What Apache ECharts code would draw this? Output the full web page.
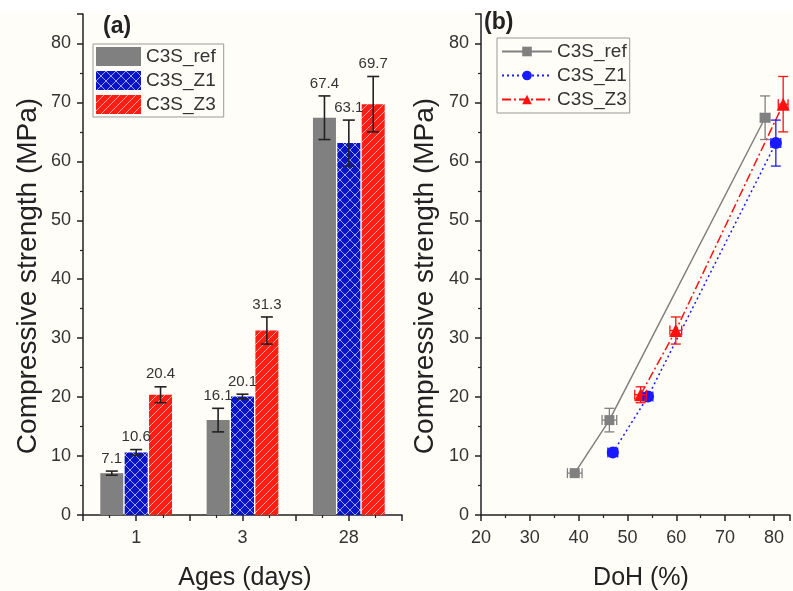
<!DOCTYPE html>
<html>
<head>
<meta charset="utf-8">
<script src="https://cdn.jsdelivr.net/npm/echarts@6/dist/echarts.min.js"></script>
<style>
html,body{margin:0;padding:0;background:#fefdf7;}
#c{width:793px;height:591px;}
</style>
</head>
<body>
<div id="c"></div>
<script>
// ---- data ----
const ageLabels = ['1', '3', '28'];
const agePos = [1, 2, 3];
const seriesNames = ['C3S_ref', 'C3S_Z1', 'C3S_Z3'];
const refStrength = [7.1, 16.1, 67.4];
const z1Strength = [10.6, 20.1, 63.1];
const z3Strength = [20.4, 31.3, 69.7];
const refErr = [0.35, 2.0, 3.7];
const z1Err = [0.5, 0.4, 3.9];
const z3Err = [1.35, 2.3, 4.7];
const refDoH = [39.2, 46.3, 78.2];
const z1DoH = [47.0, 54.2, 80.4];
const z3DoH = [52.7, 59.9, 81.9];
const refDoHErr = [1.5, 1.5, 1.0];
const z1DoHErr = [1.0, 1.0, 1.0];
const z3DoHErr = [1.2, 1.2, 1.0];
const yTitle = 'Compressive strength (MPa)';
const xTitleA = 'Ages (days)';
const xTitleB = 'DoH (%)';

const strengths = [refStrength, z1Strength, z3Strength];
const errs = [refErr, z1Err, z3Err];
const dohs = [refDoH, z1DoH, z3DoH];
const dohErrs = [refDoHErr, z1DoHErr, z3DoHErr];

// ---- styles ----
const GRAY = '#808080', BLUE = '#0a14c8', RED = '#ff1e14';
const LBLUE = '#1a1aff', LRED = '#ff1010';
const BAR_W = 23, BAR_GAP = 0.06;
const FONT = '"Liberation Sans", Arial, sans-serif';

function makePattern(bg, kind) {
  const s = kind === 'cross' ? 10 : 8;
  const c = document.createElement('canvas');
  c.width = s; c.height = s;
  const g = c.getContext('2d');
  g.fillStyle = bg; g.fillRect(0, 0, s, s);
  g.strokeStyle = 'rgba(255,255,255,0.6)';
  g.lineWidth = 1;
  g.beginPath();
  if (kind === 'cross') {
    g.moveTo(0, 0); g.lineTo(s, s);
    g.moveTo(0, s); g.lineTo(s, 0);
  } else {
    g.moveTo(-1, s + 1); g.lineTo(s + 1, -1);
    g.moveTo(-1, 1); g.lineTo(1, -1);
    g.moveTo(s - 1, s + 1); g.lineTo(s + 1, s - 1);
  }
  g.stroke();
  return { image: c, repeat: 'repeat' };
}
const barColors = [GRAY, makePattern(BLUE, 'cross'), makePattern(RED, 'diag')];
const lineColors = [GRAY, LBLUE, LRED];
const lineTypes = ['solid', [2, 3], [9, 3, 2, 3]];
const symbols = ['rect', 'circle', 'triangle'];
const symbolSizes = [10, 12, 13];

const axisCommon = {
  axisLine: { show: true, onZero: false, lineStyle: { color: '#222', width: 1.5 } },
  axisTick: { show: true, length: 6, lineStyle: { color: '#222', width: 1.5 } },
  minorTick: { show: true, splitNumber: 2, length: 3, lineStyle: { color: '#222', width: 1.2 } },
  splitLine: { show: false },
  axisLabel: { color: '#333', fontSize: 18, fontFamily: FONT }
};

const series = [];
// Panel (a) bars
for (let k = 0; k < 3; k++) {
  series.push({
    type: 'bar', name: seriesNames[k], xAxisIndex: 0, yAxisIndex: 0,
    barWidth: BAR_W, barGap: (BAR_GAP * 100) + '%',
    itemStyle: { color: barColors[k] },
    data: agePos.map((p, i) => [p, strengths[k][i]]),
    z: 2
  });
}
// Panel (a) error bars + labels
const errData = [];
for (let k = 0; k < 3; k++) for (let i = 0; i < 3; i++) errData.push([agePos[i], strengths[k][i], errs[k][i], k]);
series.push({
  type: 'custom', name: 'errA', xAxisIndex: 0, yAxisIndex: 0, z: 5,
  encode: { x: 0, y: 1 },
  data: errData,
  renderItem: function (params, api) {
    const x = api.value(0), v = api.value(1), e = api.value(2), k = api.value(3);
    const off = (k - 1) * BAR_W * (1 + BAR_GAP);
    const top = api.coord([x, v + e]), bot = api.coord([x, v - e]);
    const cx = top[0] + off, cw = 6;
    const st = { stroke: '#222', lineWidth: 1.6 };
    return { type: 'group', children: [
      { type: 'line', shape: { x1: cx, y1: top[1], x2: cx, y2: bot[1] }, style: st },
      { type: 'line', shape: { x1: cx - cw, y1: top[1], x2: cx + cw, y2: top[1] }, style: st },
      { type: 'line', shape: { x1: cx - cw, y1: bot[1], x2: cx + cw, y2: bot[1] }, style: st },
      { type: 'text', x: cx, y: top[1] - 5, style: { text: v.toFixed(1), fill: '#333', font: '15px ' + FONT, textAlign: 'center', textVerticalAlign: 'bottom' } }
    ]};
  }
});
// Panel (b) lines
for (let k = 0; k < 3; k++) {
  series.push({
    type: 'line', name: 'b:' + seriesNames[k], xAxisIndex: 1, yAxisIndex: 1,
    data: dohs[k].map((d, i) => [d, strengths[k][i]]),
    symbol: symbols[k], symbolSize: symbolSizes[k],
    itemStyle: { color: lineColors[k] },
    lineStyle: { color: lineColors[k], width: 1.5, type: lineTypes[k] },
    z: 3
  });
  const ed = dohs[k].map((d, i) => [d, strengths[k][i], dohErrs[k][i], errs[k][i]]);
  series.push({
    type: 'custom', name: 'errB' + k, xAxisIndex: 1, yAxisIndex: 1, z: 4,
    encode: { x: 0, y: 1 },
    data: ed,
    renderItem: (function (col) {
      return function (params, api) {
        const x = api.value(0), y = api.value(1), ex = api.value(2), ey = api.value(3);
        const t = api.coord([x, y + ey]), b = api.coord([x, y - ey]);
        const l = api.coord([x - ex, y]), r = api.coord([x + ex, y]);
        const st = { stroke: col, lineWidth: 1.3 }, cw = 5;
        return { type: 'group', children: [
          { type: 'line', shape: { x1: t[0], y1: t[1], x2: b[0], y2: b[1] }, style: st },
          { type: 'line', shape: { x1: t[0] - cw, y1: t[1], x2: t[0] + cw, y2: t[1] }, style: st },
          { type: 'line', shape: { x1: b[0] - cw, y1: b[1], x2: b[0] + cw, y2: b[1] }, style: st },
          { type: 'line', shape: { x1: l[0], y1: l[1], x2: r[0], y2: r[1] }, style: st },
          { type: 'line', shape: { x1: l[0], y1: l[1] - cw, x2: l[0], y2: l[1] + cw }, style: st },
          { type: 'line', shape: { x1: r[0], y1: r[1] - cw, x2: r[0], y2: r[1] + cw }, style: st }
        ]};
      };
    })(lineColors[k])
  });
}

const titleStyle = (t, size) => ({ text: t, font: size + 'px ' + FONT, fill: '#222', textAlign: 'center', textVerticalAlign: 'middle' });

const option = {
  backgroundColor: '#fefdf7',
  animation: false,
  textStyle: { fontFamily: FONT },
  graphic: [
    { type: 'rect', shape: { x: 0, y: 0, width: 793, height: 11 }, style: { fill: '#ffffff' }, z: -5 },
    { type: 'text', left: 103, top: 15, style: { text: '(a)', font: 'bold 23px ' + FONT, fill: '#222' } },
    { type: 'text', left: 484, top: 11, style: { text: '(b)', font: 'bold 23px ' + FONT, fill: '#222' } },
    { type: 'text', x: 28, y: 276, rotation: Math.PI / 2, style: titleStyle(yTitle, 28) },
    { type: 'text', x: 425, y: 276, rotation: Math.PI / 2, style: titleStyle(yTitle, 28) },
    { type: 'text', x: 245, y: 578, style: titleStyle(xTitleA, 25) },
    { type: 'text', x: 641, y: 578, style: titleStyle(xTitleB, 25) }
  ],
  legend: [
    {
      left: 93, top: 44, orient: 'vertical', padding: [3, 8, 3, 3], itemGap: 5,
      itemWidth: 45, itemHeight: 19, icon: 'rect',
      borderColor: '#999', borderWidth: 1, backgroundColor: '#fefdf7',
      textStyle: { fontSize: 19, color: '#333', fontFamily: FONT },
      data: seriesNames.slice()
    },
    {
      left: 497, top: 38, orient: 'vertical', padding: [4, 3, 4, 4], itemGap: 5,
      itemWidth: 50, itemHeight: 12,
      borderColor: '#999', borderWidth: 1, backgroundColor: '#fefdf7',
      textStyle: { fontSize: 19, color: '#333', fontFamily: FONT },
      formatter: n => n.replace(/^b:/, ''),
      data: seriesNames.map(n => 'b:' + n)
    }
  ],
  grid: [
    { left: 83, right: 391, top: 14, bottom: 76, containLabel: false },
    { left: 481, right: 0, top: 14, bottom: 76, containLabel: false }
  ],
  xAxis: [
    Object.assign({}, axisCommon, {
      type: 'value', gridIndex: 0, min: 0.5, max: 3.5, interval: 0.5,
      axisLabel: Object.assign({}, axisCommon.axisLabel, { margin: 14, formatter: v => { const i = agePos.indexOf(v); return i >= 0 ? ageLabels[i] : ''; } })
    }),
    Object.assign({}, axisCommon, {
      type: 'value', gridIndex: 1, min: 20, max: 83.3, interval: 10,
      axisLabel: Object.assign({}, axisCommon.axisLabel, { margin: 14, formatter: v => (v % 10 === 0 ? String(v) : '') })
    })
  ],
  yAxis: [0, 1].map(g => Object.assign({}, axisCommon, {
    type: 'value', gridIndex: g, min: 0, max: 85, interval: 10,
    axisLabel: Object.assign({}, axisCommon.axisLabel, { margin: 12, formatter: v => (v % 10 === 0 ? String(v) : '') })
  })),
  series: series
};

const chart = echarts.init(document.getElementById('c'), null, { renderer: 'canvas' });
chart.setOption(option);
</script>
</body>
</html>
